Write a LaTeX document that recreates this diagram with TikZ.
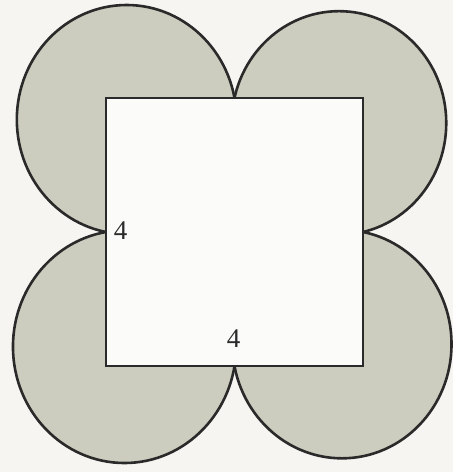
\documentclass[tikz,border=0pt]{standalone}
\usepackage{fontspec}
\setmainfont{Liberation Serif}
\definecolor{bg}{RGB}{246,245,241}
\definecolor{lobefill}{RGB}{205,205,191}
\definecolor{edge}{RGB}{42,42,42}
\definecolor{sqfill}{RGB}{251,251,249}
\begin{document}
\begin{tikzpicture}[x=1pt,y=1pt,
  lobe/.style={fill=lobefill,draw=edge,line width=2.6pt},
  sq/.style={fill=sqfill,draw=edge,line width=2.6pt},
  lab/.style={inner sep=0pt,font=\fontsize{27}{32}\selectfont,text=edge}]
\useasboundingbox[fill=bg] (0,0) rectangle (453,472);
\begin{scope}[xshift=234.5pt,yshift=240pt,x=128.5pt,y=134pt]
  \filldraw[lobe] (-0.8394,0.8394) circle[radius=0.8546];
  \filldraw[lobe] (0.8134,0.8134) circle[radius=0.8346];
  \filldraw[lobe] (-0.856,-0.856) circle[radius=0.868];
  \filldraw[lobe] (0.8366,-0.8366) circle[radius=0.8524];
  \filldraw[sq] (-1,-1) rectangle (1,1);
\end{scope}
\node[lab] (labL) at (120.5,241) {4};
\node[lab] (labB) at (233.5,133) {4};
\end{tikzpicture}
\end{document}
